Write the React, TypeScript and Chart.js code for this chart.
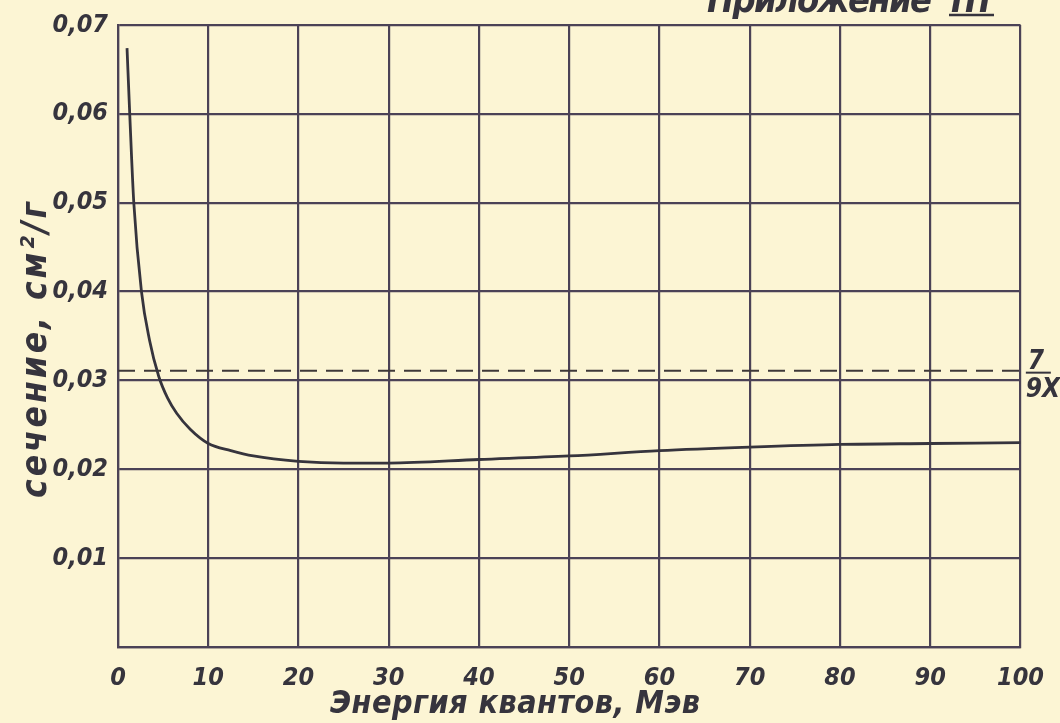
import React, { useEffect, useRef } from 'react';
import { Chart, registerables } from 'chart.js';

Chart.register(...registerables);

// Data
const energyMeV = [1.0, 1.3, 1.75, 2.6, 3.5, 4.5, 5.5, 6.5, 8, 10, 12.5, 15, 20, 25, 30, 40, 50, 60, 70, 80, 90, 100];
const crossSection = [0.0674, 0.06, 0.05, 0.04, 0.0345, 0.0305, 0.028, 0.0263, 0.0245, 0.0229, 0.0221, 0.0215, 0.0209, 0.0207, 0.0207, 0.0211, 0.0215, 0.0221, 0.0225, 0.0228, 0.0229, 0.023];
const asymptoteX = [0, 100.7];
const asymptoteY = [0.0311, 0.0311];

const xTickValues = [0, 10, 20, 30, 40, 50, 60, 70, 80, 90, 100];
const yTickValues = [0, 0.01, 0.02, 0.03, 0.04, 0.05, 0.06, 0.07];
const yTickLabels = ['', '0,01', '0,02', '0,03', '0,04', '0,05', '0,06', '0,07'];

const xTitle = 'Энергия квантов, Мэв';
const yTitle = 'сечение, см²/г';
const pageTitle = 'Приложение';
const pageTitleNumeral = 'III';
const asymptoteNumerator = '7';
const asymptoteDenominator = '9X₀';

const FONT = '"DejaVu Sans Condensed", "DejaVu Sans", sans-serif';
const INK = '#36343d';
const GRID = '#4b4256';
const PAPER = '#fcf5d4';

function fitText(ctx: CanvasRenderingContext2D, text: string, x: number, y: number, target: number) {
  (ctx as any).letterSpacing = '0px';
  const w = ctx.measureText(text).width;
  const n = Array.from(text).length;
  const sp = n > 1 ? (target - w) / (n - 1) : 0;
  (ctx as any).letterSpacing = `${sp.toFixed(2)}px`;
  ctx.fillText(text, x, y);
  (ctx as any).letterSpacing = '0px';
}

export default function App() {
  const ref = useRef<HTMLCanvasElement | null>(null);

  useEffect(() => {
    document.body.style.margin = '0';
    const canvas = ref.current;
    if (!canvas) return;

    const decor = {
      id: 'decor',
      beforeDraw(chart: any) {
        const ctx = chart.ctx;
        ctx.save();
        ctx.fillStyle = PAPER;
        ctx.fillRect(0, 0, chart.width, chart.height);
        ctx.restore();
      },
      afterDraw(chart: any) {
        const ctx: CanvasRenderingContext2D = chart.ctx;
        const xs = chart.scales.x;
        const ys = chart.scales.y;
        const area = chart.chartArea;
        ctx.save();
        ctx.fillStyle = INK;
        ctx.strokeStyle = INK;

        // x-axis title
        ctx.font = `italic bold 32px ${FONT}`;
        ctx.textAlign = 'left';
        ctx.textBaseline = 'alphabetic';
        fitText(ctx, xTitle, 330, 713, 370);

        // y-axis title (rotated)
        ctx.save();
        ctx.translate(46, (area.top + area.bottom) / 2 + 14);
        ctx.rotate(-Math.PI / 2);
        ctx.font = `italic bold 35px ${FONT}`;
        ctx.textAlign = 'left';
        ctx.textBaseline = 'alphabetic';
        fitText(ctx, yTitle, -148, 0, 296);
        ctx.restore();

        // page title, top clipped by the page edge
        ctx.font = `italic bold 36px ${FONT}`;
        ctx.textAlign = 'left';
        ctx.textBaseline = 'alphabetic';
        fitText(ctx, pageTitle, 707, 12, 225);
        fitText(ctx, pageTitleNumeral, 951, 12, 40);
        ctx.lineWidth = 2.5;
        ctx.beginPath();
        ctx.moveTo(949, 15);
        ctx.lineTo(994, 15);
        ctx.stroke();

        // asymptote label 7/(9X0)
        const yLine = ys.getPixelForValue(asymptoteY[1]);
        const xEnd = xs.getPixelForValue(asymptoteX[1]);
        ctx.font = `italic bold 26px ${FONT}`;
        ctx.textAlign = 'left';
        ctx.textBaseline = 'alphabetic';
        ctx.fillText(asymptoteNumerator, xEnd + 1, yLine - 2);
        ctx.fillText(asymptoteDenominator, xEnd - 1, yLine + 26);
        ctx.lineWidth = 2;
        ctx.beginPath();
        ctx.moveTo(xEnd - 1, yLine + 2);
        ctx.lineTo(xEnd + 24, yLine + 2);
        ctx.stroke();
        ctx.restore();
      },
    };

    const tickFont = { family: FONT, size: 25, style: 'italic' as const, weight: 'bold' as const };

    const chart = new Chart(canvas, {
      type: 'line',
      data: {
        datasets: [
          {
            label: 'σ',
            data: energyMeV.map((x, i) => ({ x, y: crossSection[i] })),
            borderColor: INK,
            borderWidth: 2.8,
            pointRadius: 0,
            cubicInterpolationMode: 'monotone',
            fill: false,
          },
          {
            label: '7/9X₀',
            data: asymptoteX.map((x, i) => ({ x, y: asymptoteY[i] })),
            borderColor: '#3e3838',
            borderWidth: 2,
            borderDash: [17, 9],
            pointRadius: 0,
            fill: false,
            clip: false as any,
          },
        ],
      },
      options: {
        responsive: false,
        animation: false,
        devicePixelRatio: 1,
        layout: { padding: { top: 22, right: 38, left: 0, bottom: 0 } },
        plugins: { legend: { display: false }, tooltip: { enabled: false } },
        scales: {
          x: {
            type: 'linear',
            min: 0,
            max: 100,
            afterBuildTicks: (s: any) => {
              s.ticks = xTickValues.map((v) => ({ value: v }));
            },
            afterFit: (s: any) => {
              s.height = 76;
            },
            grid: { color: GRID, lineWidth: 2.2, drawTicks: false },
            border: { display: true, color: GRID, width: 2.2 },
            ticks: {
              color: INK,
              padding: 16,
              maxRotation: 0,
              autoSkip: false,
              font: tickFont,
              callback: (v: any) => String(v),
            },
          },
          y: {
            type: 'linear',
            min: 0,
            max: 0.07,
            afterBuildTicks: (s: any) => {
              s.ticks = yTickValues.map((v) => ({ value: v }));
            },
            afterFit: (s: any) => {
              s.width = 118;
            },
            grid: { color: GRID, lineWidth: 2.2, drawTicks: false },
            border: { display: true, color: GRID, width: 2.2 },
            ticks: {
              color: INK,
              padding: 10,
              autoSkip: false,
              font: tickFont,
              callback: (v: any) => {
                const i = yTickValues.findIndex((t) => Math.abs(t - v) < 1e-9);
                return i >= 0 ? yTickLabels[i] : '';
              },
            },
          },
        },
      },
      plugins: [decor],
    });

    return () => chart.destroy();
  }, []);

  return (
    <div style={{ width: 1060, height: 723 }}>
      <canvas ref={ref} width={1060} height={723} style={{ display: 'block' }} />
    </div>
  );
}
